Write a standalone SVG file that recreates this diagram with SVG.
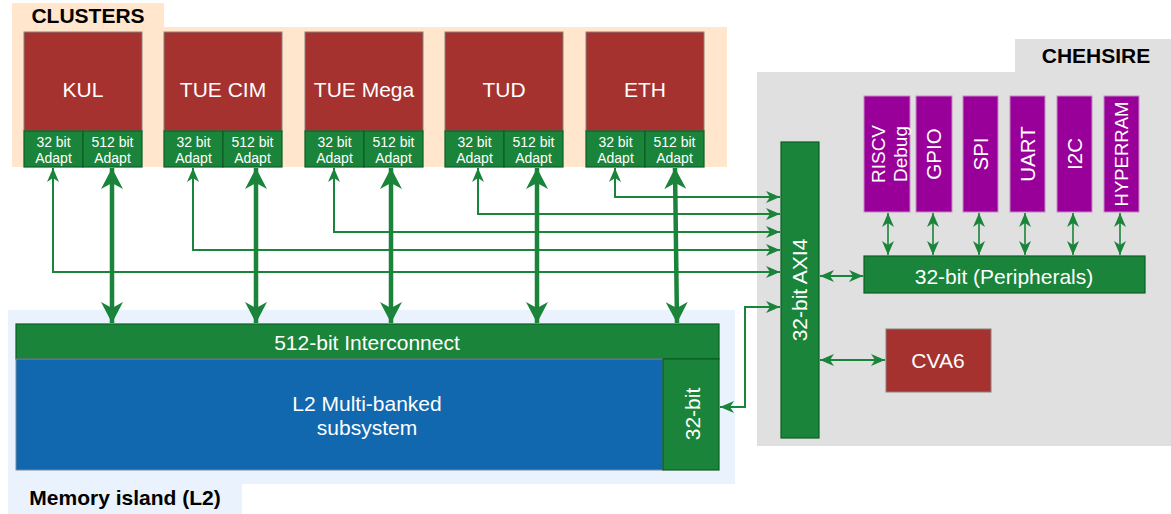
<svg xmlns="http://www.w3.org/2000/svg" width="1171" height="514" viewBox="0 0 1171 514">
<defs>
<style>
.t{font-family:"Liberation Sans",Arial,sans-serif;fill:#fff;text-anchor:middle}
.b{font-family:"Liberation Sans",Arial,sans-serif;font-weight:bold;fill:#000;text-anchor:middle;font-size:21px}
.red{fill:#A5322F;stroke:#8a7f7f;stroke-width:1}
.grn{fill:#1A843A;stroke:#0d5e24;stroke-width:1.2}
.pur{fill:#990099;stroke:#c58ac5;stroke-width:1}
.thin{fill:none;stroke:#1A843A;stroke-width:2;marker-start:url(#ah);marker-end:url(#ah)}
.per{fill:none;stroke:#1A843A;stroke-width:1.6;marker-start:url(#ah);marker-end:url(#ah)}
.thick{fill:none;stroke:#1A843A;stroke-width:4.5;marker-start:url(#ahb);marker-end:url(#ahb)}
</style>
<marker id="ah" markerUnits="userSpaceOnUse" markerWidth="16" markerHeight="14" refX="14" refY="6" orient="auto-start-reverse">
<path d="M0,0 L14,6 L0,12 L4,6 z" fill="#1A843A"/>
</marker>
<marker id="ahb" markerUnits="userSpaceOnUse" markerWidth="24" markerHeight="24" refX="21" refY="11" orient="auto-start-reverse">
<path d="M0,0 L21,11 L0,22 L6,11 z" fill="#1A843A"/>
</marker>
</defs>
<rect width="1171" height="514" fill="#fff"/>

<g id="clusters-bg">
<rect x="12" y="3" width="152" height="25" fill="#FFE6CC"/>
<rect x="12" y="27" width="715" height="140" fill="#FFE6CC"/>
<text class="b" x="88" y="23">CLUSTERS</text>
</g>

<g id="chehsire-bg">
<rect x="1015" y="39" width="156" height="34" fill="#E0E0E0"/>
<rect x="757" y="72" width="414" height="374" fill="#E0E0E0"/>
<text class="b" x="1096" y="63">CHEHSIRE</text>
</g>

<g id="memory-bg">
<rect x="8" y="310" width="727" height="174" fill="#EAF2FD"/>
<rect x="8" y="484" width="234" height="30" fill="#EAF2FD"/>
<text class="b" x="125" y="505">Memory island (L2)</text>
</g>

<g id="kul">
<rect class="red" x="24" y="32" width="118" height="99"/>
<text class="t" x="83" y="97" font-size="21">KUL</text>
<rect class="grn" x="24" y="131" width="59" height="36"/>
<rect class="grn" x="83" y="131" width="59" height="36"/>
<text class="t" font-size="14"><tspan x="53.5" y="147">32 bit</tspan><tspan x="53.5" y="163">Adapt</tspan></text>
<text class="t" font-size="14"><tspan x="112.5" y="147">512 bit</tspan><tspan x="112.5" y="163">Adapt</tspan></text>
</g>
<g id="tue-cim">
<rect class="red" x="164" y="32" width="118" height="99"/>
<text class="t" x="223" y="97" font-size="21">TUE CIM</text>
<rect class="grn" x="164" y="131" width="59" height="36"/>
<rect class="grn" x="223" y="131" width="59" height="36"/>
<text class="t" font-size="14"><tspan x="193.5" y="147">32 bit</tspan><tspan x="193.5" y="163">Adapt</tspan></text>
<text class="t" font-size="14"><tspan x="252.5" y="147">512 bit</tspan><tspan x="252.5" y="163">Adapt</tspan></text>
</g>
<g id="tue-mega">
<rect class="red" x="305" y="32" width="118" height="99"/>
<text class="t" x="364" y="97" font-size="21">TUE Mega</text>
<rect class="grn" x="305" y="131" width="59" height="36"/>
<rect class="grn" x="364" y="131" width="59" height="36"/>
<text class="t" font-size="14"><tspan x="334.5" y="147">32 bit</tspan><tspan x="334.5" y="163">Adapt</tspan></text>
<text class="t" font-size="14"><tspan x="393.5" y="147">512 bit</tspan><tspan x="393.5" y="163">Adapt</tspan></text>
</g>
<g id="tud">
<rect class="red" x="445" y="32" width="118" height="99"/>
<text class="t" x="504" y="97" font-size="21">TUD</text>
<rect class="grn" x="445" y="131" width="59" height="36"/>
<rect class="grn" x="504" y="131" width="59" height="36"/>
<text class="t" font-size="14"><tspan x="474.5" y="147">32 bit</tspan><tspan x="474.5" y="163">Adapt</tspan></text>
<text class="t" font-size="14"><tspan x="533.5" y="147">512 bit</tspan><tspan x="533.5" y="163">Adapt</tspan></text>
</g>
<g id="eth">
<rect class="red" x="586" y="32" width="118" height="99"/>
<text class="t" x="645" y="97" font-size="21">ETH</text>
<rect class="grn" x="586" y="131" width="59" height="36"/>
<rect class="grn" x="645" y="131" width="59" height="36"/>
<text class="t" font-size="14"><tspan x="615.5" y="147">32 bit</tspan><tspan x="615.5" y="163">Adapt</tspan></text>
<text class="t" font-size="14"><tspan x="674.5" y="147">512 bit</tspan><tspan x="674.5" y="163">Adapt</tspan></text>
</g>

<g id="interconnect">
<rect class="grn" x="16" y="324" width="703" height="35"/>
<text class="t" x="367" y="350" font-size="21">512-bit Interconnect</text>
</g>
<g id="l2">
<rect x="16" y="359" width="647" height="111" fill="#1168AE" stroke="#7a8a99" stroke-width="1"/>
<text class="t" font-size="21"><tspan x="367" y="411">L2 Multi-banked</tspan><tspan x="367" y="435">subsystem</tspan></text>
</g>
<g id="l2-32bit">
<rect class="grn" x="663" y="359" width="56" height="111"/>
<text class="t" font-size="21" transform="translate(700,414) rotate(-90)">32-bit</text>
</g>

<g id="axi4">
<rect class="grn" x="781" y="142" width="38" height="296"/>
<text class="t" font-size="21" transform="translate(807,290) rotate(-90)">32-bit AXI4</text>
</g>
<g id="cva6">
<rect class="red" x="886" y="329" width="105" height="63"/>
<text class="t" x="938" y="368" font-size="21">CVA6</text>
</g>
<g id="peripherals-bus">
<rect class="grn" x="864" y="256" width="281" height="37"/>
<text class="t" x="1004" y="284" font-size="21">32-bit (Peripherals)</text>
</g>
<g id="riscv-debug">
<rect class="pur" x="864" y="96" width="46" height="116"/>
<text class="t" font-size="19" transform="translate(885,154) rotate(-90)">RISCV</text>
<text class="t" font-size="19" transform="translate(907,154) rotate(-90)">Debug</text>
</g>
<g id="gpio">
<rect class="pur" x="916" y="96" width="36" height="116"/>
<text class="t" font-size="20.5" transform="translate(941,154) rotate(-90)">GPIO</text>
</g>
<g id="spi">
<rect class="pur" x="963" y="96" width="35" height="116"/>
<text class="t" font-size="20.5" transform="translate(988,154) rotate(-90)">SPI</text>
</g>
<g id="uart">
<rect class="pur" x="1010" y="96" width="35" height="116"/>
<text class="t" font-size="20.5" transform="translate(1035,154) rotate(-90)">UART</text>
</g>
<g id="i2c">
<rect class="pur" x="1057" y="96" width="35" height="116"/>
<text class="t" font-size="20.5" transform="translate(1082,154) rotate(-90)">I2C</text>
</g>
<g id="hyperram">
<rect class="pur" x="1104" y="96" width="35" height="116"/>
<text class="t" font-size="18.5" transform="translate(1128,154) rotate(-90)">HYPERRAM</text>
</g>

<g id="connectors">
<path class="thick" d="M112,168 V323"/>
<path class="thick" d="M256,168 V323"/>
<path class="thick" d="M391,168 V323"/>
<path class="thick" d="M537,168 V323"/>
<path class="thick" d="M675,168 L677,323"/>
<path class="thin" d="M53,168 V272 H780"/>
<path class="thin" d="M193,168 V250 H780"/>
<path class="thin" d="M334,168 V232 H780"/>
<path class="thin" d="M478,168 V214 H780"/>
<path class="thin" d="M615,168 V197 H780"/>
<path class="thin" d="M720,407 H745 V307 H780"/>
<path class="thin" d="M820,276 H863"/>
<path class="thin" d="M820,360 H885"/>
<path class="per" d="M888,213 V255"/>
<path class="per" d="M933,213 V255"/>
<path class="per" d="M979,213 V255"/>
<path class="per" d="M1025,213 V255"/>
<path class="per" d="M1073,213 V255"/>
<path class="per" d="M1120,213 V255"/>
</g>
</svg>
